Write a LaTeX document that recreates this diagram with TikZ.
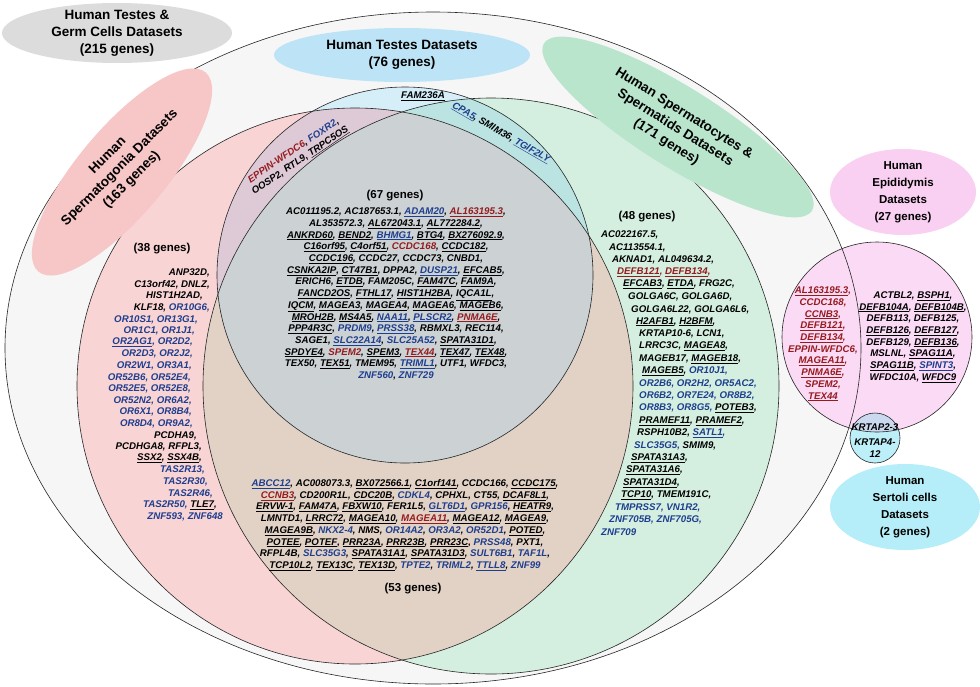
\documentclass[tikz,border=0pt]{standalone}
\usepackage{fontspec}
\setmainfont{Liberation Sans}
\usepackage{xcolor}
\definecolor{outerfill}{HTML}{F6F6F6}
\definecolor{graylab}{HTML}{DCDCDC}
\definecolor{bluelab}{HTML}{BDE4F6}
\definecolor{pinklab}{HTML}{F7C6C6}
\definecolor{greenlab}{HTML}{B9E5CD}
\definecolor{epilab}{HTML}{F9D0F1}
\definecolor{sertlab}{HTML}{B5EEF8}
\definecolor{pinkset}{HTML}{F9D4D4}
\definecolor{greenset}{HTML}{D4EFE0}
\definecolor{blueset}{HTML}{D5EEF8}
\definecolor{tanset}{HTML}{E2D2C6}
\definecolor{purpleset}{HTML}{DECAD6}
\definecolor{tealset}{HTML}{BBE3E2}
\definecolor{grayset}{HTML}{CCD1D3}
\definecolor{episet}{HTML}{FBDAF5}
\definecolor{sertset}{HTML}{BDEFF8}
\definecolor{bothset}{HTML}{CAD9F0}
\definecolor{gred}{HTML}{951B1E}
\definecolor{gblue}{HTML}{1E3E8E}
\newcommand{\redg}[1]{\textcolor{gred}{#1}}
\newcommand{\blug}[1]{\textcolor{gblue}{#1}}
\newcommand{\ulg}[1]{\underline{#1}}

\begin{document}
\begin{tikzpicture}[x=1pt, y=-1pt,
    gene/.style={font=\fontsize{9.7}{11.7}\selectfont\bfseries\itshape, inner sep=0pt},
    genecount/.style={font=\fontsize{11.5}{14}\selectfont\bfseries, inner sep=0pt},
    dslabel/.style={font=\fontsize{13.5}{17}\selectfont\bfseries, align=center, inner sep=0pt},
    dssmall/.style={font=\fontsize{11.5}{17}\selectfont\bfseries, align=center, inner sep=0pt},
    setline/.style={draw=black!85, line width=0.6pt},
]
\useasboundingbox (0,0) rectangle (980,686);
\fill[white] (0,0) rectangle (980,686);

% ── Testes & germ cells (outer set) ──
\fill[outerfill] (433,348) ellipse[x radius=428pt, y radius=336pt];

% ── Spermatogonia / spermatocytes / testes sets ──
\fill[pinkset] (355,386) circle[radius=278pt];
\fill[greenset] (491,386) circle[radius=288pt];
\begin{scope}
    \clip (355,386) circle[radius=278pt];
    \fill[tanset] (491,386) circle[radius=288pt];
\end{scope}
\fill[blueset] (405,275) circle[radius=188pt];
\begin{scope}
    \clip (405,275) circle[radius=188pt];
    \fill[purpleset] (355,386) circle[radius=278pt];
    \fill[tealset] (491,386) circle[radius=288pt];
    \clip (355,386) circle[radius=278pt];
    \fill[grayset] (491,386) circle[radius=288pt];
\end{scope}
\draw[setline] (355,386) circle[radius=278pt];
\draw[setline] (491,386) circle[radius=288pt];
\draw[setline] (405,275) circle[radius=188pt];

% ── Epididymis and Sertoli sets ──
\fill[episet] (877,337) circle[radius=95pt];
\fill[sertset] (875,438) circle[radius=25pt];
\begin{scope}
    \clip (877,337) circle[radius=95pt];
    \fill[bothset] (875,438) circle[radius=25pt];
\end{scope}
\draw[setline] (877,337) circle[radius=95pt];
\draw[setline] (875,438) circle[radius=25pt];
\draw[setline] (433,348) ellipse[x radius=428pt, y radius=336pt];

% ── Dataset labels ──
\fill[graylab] (117,33) ellipse[x radius=115pt, y radius=30pt];
\node[dslabel] (lgerm) at (117,33) {Human Testes \&\\Germ Cells Datasets\\(215 genes)};
\fill[bluelab] (402,55) ellipse[x radius=128pt, y radius=27pt];
\node[dslabel] (ltestes) at (402,55) {Human Testes Datasets\\(76 genes)};
\fill[pinklab, rotate around={50:(122,172)}] (122,172) ellipse[x radius=130pt, y radius=44pt];
\node[dslabel, rotate=45] (lgonia) at (120,168) {Human\\Spermatogonia Datasets\\(163 genes)};
\fill[greenlab, rotate around={-32:(678,127)}] (678,127) ellipse[x radius=158pt, y radius=40pt];
\node[dslabel, rotate=-32] (lcytes) at (675,128) {Human Spermatocytes \&\\Spermatids Datasets\\(171 genes)};
\fill[epilab] (903,192) ellipse[x radius=73pt, y radius=43pt];
\node[dssmall] (lepi) at (903,192) {Human\\Epididymis\\Datasets\\(27 genes)};
\fill[sertlab] (905,507) ellipse[x radius=75pt, y radius=43pt];
\node[dssmall] (lsert) at (905,507) {Human\\Sertoli cells\\Datasets\\(2 genes)};

% ── Testes only, testes & spermatogonia, testes & spermatocytes ──
\node[gene] (tonly) at (423,96) {\ulg{FAM236A}};
\node[gene, rotate=34, align=center] (tgonia) at (297,156) {\redg{EPPIN-WFDC6}, \blug{FOXR2},\\OOSP2, RTL9, \ulg{TRPC5OS}};
\node[gene, rotate=-30] (tcytes) at (501,133) {\blug{\ulg{CPA5}}, SMIM36, \blug{\ulg{TGIF2LY}}};

% ── Common to all three (67) ──
\node[genecount] (n67) at (395,196) {(67 genes)};
\node[gene, align=center] (core) at (396,294) {
AC011195.2, AC187653.1, \blug{\ulg{ADAM20}}, \redg{\ulg{AL163195.3}},\\
AL353572.3, \ulg{AL672043.1}, \ulg{AL772284.2},\\
\ulg{ANKRD60}, \ulg{BEND2}, \blug{\ulg{BHMG1}}, \ulg{BTG4}, \ulg{BX276092.9},\\
\ulg{C16orf95}, \ulg{C4orf51}, \redg{CCDC168}, \ulg{CCDC182},\\
\ulg{CCDC196}, CCDC27, CCDC73, CNBD1,\\
\ulg{CSNKA2IP}, \ulg{CT47B1}, DPPA2, \blug{\ulg{DUSP21}}, \ulg{EFCAB5},\\
ERICH6, \ulg{ETDB}, FAM205C, \ulg{FAM47C}, \ulg{FAM9A},\\
\ulg{FANCD2OS}, \ulg{FTHL17}, \ulg{HIST1H2BA}, \ulg{IQCA1L},\\
\ulg{IQCM}, \ulg{MAGEA3}, \ulg{MAGEA4}, \ulg{MAGEA6}, \ulg{MAGEB6},\\
\ulg{MROH2B}, \ulg{MS4A5}, \blug{\ulg{NAA11}}, \blug{\ulg{PLSCR2}}, \redg{\ulg{PNMA6E}},\\
\ulg{PPP4R3C}, \blug{PRDM9}, \blug{\ulg{PRSS38}}, RBMXL3, REC114,\\
SAGE1, \blug{\ulg{SLC22A14}}, \blug{SLC25A52}, \ulg{SPATA31D1},\\
\ulg{SPDYE4}, \redg{SPEM2}, \ulg{SPEM3}, \redg{\ulg{TEX44}}, \ulg{TEX47}, \ulg{TEX48},\\
TEX50, \ulg{TEX51}, TMEM95, \blug{\ulg{TRIML1}}, UTF1, WFDC3,\\
\blug{ZNF560}, \blug{ZNF729}};

% ── Spermatogonia only (38) ──
\node[genecount] (n38) at (162,249) {(38 genes)};
\foreach \xr/\txt [count=\i] in {
    210/{ANP32D,},
    210/{C13orf42, DNLZ,},
    203/{HIST1H2AD,},
    210/{KLF18, \blug{OR10G6,}},
    198/{\blug{OR10S1, OR13G1,}},
    195/{\blug{OR1C1, OR1J1,}},
    193/{\blug{\ulg{OR2AG1}, OR2D2,}},
    193/{\blug{OR2D3, OR2J2,}},
    192/{\blug{OR2W1, OR3A1,}},
    191/{\blug{OR52B6, OR52E4,}},
    191/{\blug{OR52E5, OR52E8,}},
    192/{\blug{OR52N2, OR6A2,}},
    192/{\blug{OR6X1, OR8B4,}},
    193/{\blug{OR8D4, OR9A2,}},
    197/{PCDHA9,},
    202/{PCDHGA8, RFPL3,},
    202/{\ulg{SSX2}, \ulg{SSX4B},},
    205/{\blug{TAS2R13,}},
    208/{\blug{TAS2R30,}},
    213/{\blug{TAS2R46,}},
    217/{\blug{TAS2R50,} \ulg{TLE7},},
    223/{\blug{ZNF593, ZNF648}}}
    \node[gene, anchor=east] (sg\i) at (\xr, {273+11.6*(\i-1)}) {\txt};

% ── Spermatocytes only (48) ──
\node[genecount] (n48) at (647,217) {(48 genes)};
\foreach \xl/\txt [count=\i] in {
    601/{AC022167.5,},
    609/{AC113554.1,},
    612/{AKNAD1, AL049634.2,},
    617/{\redg{\ulg{DEFB121}, \ulg{DEFB134},}},
    623/{\ulg{EFCAB3}, \ulg{ETDA}, FRG2C,},
    628/{GOLGA6C, GOLGA6D,},
    631/{GOLGA6L22, GOLGA6L6,},
    636/{\ulg{H2AFB1}, \ulg{H2BFM},},
    639/{KRTAP10-6, LCN1,},
    639/{LRRC3C, \ulg{MAGEA8},},
    639/{MAGEB17, \ulg{MAGEB18},},
    642/{\ulg{MAGEB5}, \blug{OR10J1,}},
    639/{\blug{OR2B6, OR2H2, OR5AC2,}},
    639/{\blug{OR6B2, OR7E24, OR8B2,}},
    639/{\blug{OR8B3, OR8G5,} \ulg{POTEB3},},
    639/{\ulg{PRAMEF11}, \ulg{PRAMEF2},},
    637/{RSPH10B2, \blug{\ulg{SATL1},}},
    634/{\blug{SLC35G5,} SMIM9,},
    631/{\ulg{SPATA31A3},},
    626/{\ulg{SPATA31A6},},
    623/{\ulg{SPATA31D4},},
    621/{\ulg{TCP10}, TMEM191C,},
    615/{\blug{TMPRSS7, VN1R2,}},
    609/{\blug{ZNF705B, ZNF705G,}},
    601/{\blug{ZNF709}}}
    \node[gene, anchor=west] (sc\i) at (\xl, {235+12.4*(\i-1)}) {\txt};

% ── Spermatogonia & spermatocytes (53) ──
\node[gene, align=center] (shared) at (405,525) {
\blug{\ulg{ABCC12}}, AC008073.3, \ulg{BX072566.1}, \ulg{C1orf141}, CCDC166, \ulg{CCDC175},\\
\redg{\ulg{CCNB3}}, CD200R1L, \ulg{CDC20B}, \blug{CDKL4}, CPHXL, CT55, \ulg{DCAF8L1},\\
\ulg{ERVW-1}, \ulg{FAM47A}, \ulg{FBXW10}, FER1L5, \blug{\ulg{GLT6D1}}, \blug{GPR156}, \ulg{HEATR9},\\
LMNTD1, \ulg{LRRC72}, \ulg{MAGEA10}, \redg{\ulg{MAGEA11}}, \ulg{MAGEA12}, \ulg{MAGEA9},\\
\ulg{MAGEA9B}, \blug{NKX2-4}, NMS, \blug{OR14A2}, \blug{OR3A2}, \blug{OR52D1}, \ulg{POTED},\\
\ulg{POTEE}, \ulg{POTEF}, \ulg{PRR23A}, \ulg{PRR23B}, \ulg{PRR23C}, \blug{PRSS48}, PXT1,\\
RFPL4B, \blug{SLC35G3}, \ulg{SPATA31A1}, \ulg{SPATA31D3}, \blug{SULT6B1}, \blug{TAF1L},\\
\ulg{TCP10L2}, \ulg{TEX13C}, \ulg{TEX13D}, \blug{TPTE2}, \blug{TRIML2}, \blug{\ulg{TTLL8}}, \blug{ZNF99}};
\node[genecount] (n53) at (413,589) {(53 genes)};

% ── Epididymis ──
\node[gene, align=center, text=gred] (epiin) at (823,344) {
\ulg{AL163195.3},\\CCDC168,\\\ulg{CCNB3},\\\ulg{DEFB121},\\\ulg{DEFB134},\\EPPIN-WFDC6,\\\ulg{MAGEA11},\\\ulg{PNMA6E},\\SPEM2,\\\ulg{TEX44}};
\node[gene, align=center] (epiout) at (913,337) {
ACTBL2, \ulg{BSPH1},\\
\ulg{DEFB104A}, \ulg{DEFB104B},\\
DEFB113, DEFB125,\\
\ulg{DEFB126}, \ulg{DEFB127},\\
DEFB129, \ulg{DEFB136},\\
MSLNL, \ulg{SPAG11A},\\
\ulg{SPAG11B}, \blug{\ulg{SPINT3}},\\
WFDC10A, \ulg{WFDC9}};

% ── Sertoli ──
\node[gene] (sboth) at (875,427) {KRTAP2-3};
\node[gene, align=center] (sonly) at (875,448) {KRTAP4-\\12};

\end{tikzpicture}
\end{document}
